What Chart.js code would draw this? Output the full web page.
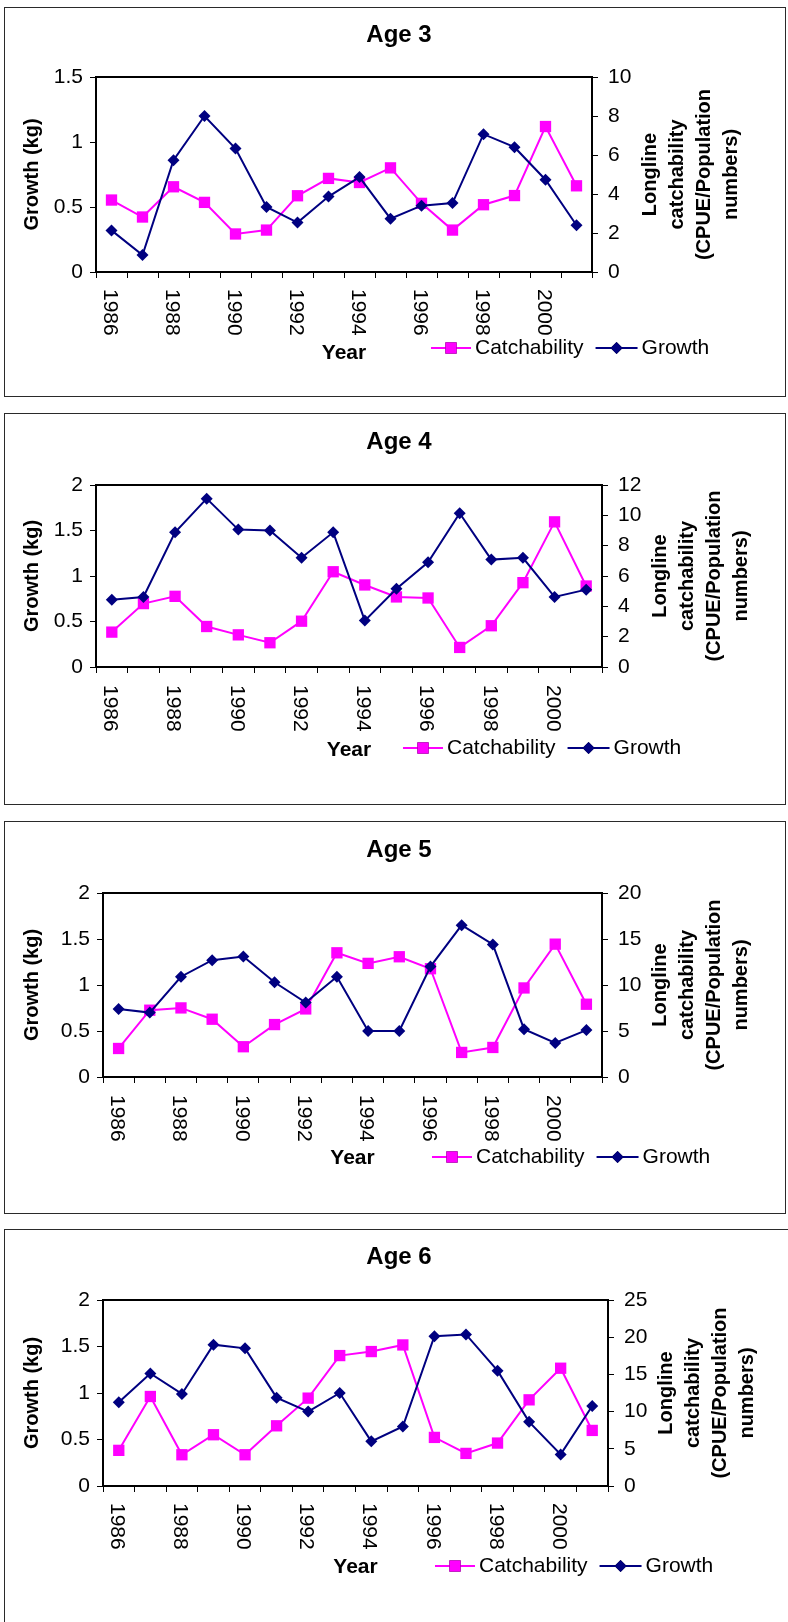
<!DOCTYPE html>
<html>
<head>
<meta charset="utf-8">
<script src="https://cdn.jsdelivr.net/npm/chart.js@4.4.1/dist/chart.umd.min.js"></script>
<style>
  html, body { margin: 0; padding: 0; background: #fff; }
  body { position: relative; width: 788px; height: 1622px; overflow: hidden; }
  .box { position: absolute; box-sizing: border-box; border: 1.5px solid #2a2a2a; }
  canvas { position: absolute; left: 0; }
</style>
</head>
<body>
<script>
// Years on the category axis (every second one is labelled)
const years = ['1986','1987','1988','1989','1990','1991','1992','1993',
               '1994','1995','1996','1997','1998','1999','2000','2001'];

// Growth (kg), left axis
const growthAge3 = [0.32,0.13,0.86,1.20,0.95,0.50,0.38,0.58,0.73,0.41,0.51,0.53,1.06,0.96,0.71,0.36];
const growthAge4 = [0.74,0.77,1.48,1.85,1.51,1.50,1.20,1.48,0.51,0.86,1.15,1.69,1.18,1.20,0.77,0.85];
const growthAge5 = [0.74,0.70,1.09,1.27,1.31,1.03,0.81,1.09,0.50,0.50,1.20,1.65,1.44,0.52,0.37,0.51];
const growthAge6 = [0.90,1.21,0.99,1.52,1.48,0.95,0.80,1.00,0.48,0.64,1.61,1.63,1.24,0.69,0.34,0.86];

// Longline catchability (CPUE / population numbers), right axis
const catchAge3 = [3.69,2.82,4.37,3.57,1.95,2.15,3.91,4.80,4.59,5.34,3.52,2.15,3.45,3.92,7.46,4.42];
const catchAge4 = [2.30,4.18,4.66,2.67,2.12,1.60,3.02,6.28,5.41,4.62,4.55,1.29,2.72,5.56,9.57,5.34];
const catchAge5 = [3.10,7.26,7.51,6.28,3.29,5.70,7.40,13.50,12.35,13.07,11.77,2.67,3.21,9.68,14.44,7.91];
const catchAge6 = [4.79,12.03,4.20,6.89,4.20,8.09,11.81,17.53,18.07,18.96,6.53,4.38,5.77,11.58,15.83,7.47];

const panelTitles = ['Age 3', 'Age 4', 'Age 5', 'Age 6'];
const growthSeries = [growthAge3, growthAge4, growthAge5, growthAge6];
const catchSeries  = [catchAge3, catchAge4, catchAge5, catchAge6];

// Axis ranges and tick steps
const growthMax  = [1.5, 2, 2, 2];
const growthStep = [0.5, 0.5, 0.5, 0.5];
const catchMax   = [10, 12, 20, 25];
const catchStep  = [2, 2, 5, 5];

const rightAxisTitle = ['Longline', 'catchability', '(CPUE/Population', 'numbers)'];

// Page layout of each framed panel (pixels)
const layoutBoxes = [
  { top: 7,    bottom: 397,  width: 782, plotL: 96,  plotR: 592, plotT: 77,   plotB: 272,  titleY: 35,   labelY: 289,  yearY: 353,  legendX: 431, legendY: 348 },
  { top: 413,  bottom: 805,  width: 782, plotL: 96,  plotR: 602, plotT: 485,  plotB: 667,  titleY: 442,  labelY: 685,  yearY: 750,  legendX: 403, legendY: 748 },
  { top: 821,  bottom: 1214, width: 782, plotL: 103, plotR: 602, plotT: 893,  plotB: 1077, titleY: 850,  labelY: 1095, yearY: 1158, legendX: 432, legendY: 1157 },
  { top: 1229, bottom: 1660, width: 800, plotL: 103, plotR: 608, plotT: 1300, plotB: 1486, titleY: 1257, labelY: 1503, yearY: 1567, legendX: 435, legendY: 1566 }
];

const FONT = "'Liberation Sans', Arial, Helvetica, sans-serif";
const PINK = '#FF00FF';
const NAVY = '#000080';
const PAGE_W = 788;
const PAGE_H = 1622;

Chart.defaults.font.family = FONT;
Chart.defaults.color = '#000';

// Plot-area frame
const framePlugin = {
  id: 'frame',
  beforeDatasetsDraw(chart) {
    const { ctx, chartArea: a } = chart;
    ctx.save();
    ctx.strokeStyle = '#000';
    ctx.lineWidth = 2;
    ctx.strokeRect(a.left, a.top, a.right - a.left, a.bottom - a.top);
    ctx.restore();
  }
};

// Rotated year labels, right-hand axis title and the line/marker legend
const decorPlugin = {
  id: 'decor',
  afterDraw(chart, args, opts) {
    const { ctx } = chart;
    const p = opts.box;
    const xs = chart.scales.x;
    ctx.save();
    ctx.fillStyle = '#000';

    // year labels, reading downwards
    ctx.font = `21px ${FONT}`;
    ctx.textAlign = 'left';
    ctx.textBaseline = 'middle';
    years.forEach((yr, i) => {
      if (i % 2 !== 0) return;
      const x = xs.getPixelForValue(i) - 2;
      ctx.save();
      ctx.translate(x, p.labelY - p.top);
      ctx.rotate(Math.PI / 2);
      ctx.fillText(yr, 0, 0);
      ctx.restore();
    });

    // right axis title, four lines reading upwards
    ctx.font = `bold 20px ${FONT}`;
    ctx.textAlign = 'center';
    ctx.textBaseline = 'middle';
    const cx = p.plotR + 99;
    const cy = (p.plotT + p.plotB) / 2 - p.top;
    ctx.save();
    ctx.translate(cx, cy);
    ctx.rotate(-Math.PI / 2);
    rightAxisTitle.forEach((line, j) => {
      ctx.fillText(line, 0, (j - (rightAxisTitle.length - 1) / 2) * 27.3);
    });
    ctx.restore();

    // legend
    const ly = p.legendY - p.top;
    let x = p.legendX;
    ctx.font = `21px ${FONT}`;
    ctx.textAlign = 'left';
    ctx.textBaseline = 'middle';
    const entries = [
      { ds: chart.data.datasets[0], w: 40 },
      { ds: chart.data.datasets[1], w: 42 }
    ];
    entries.forEach((e) => {
      const ds = e.ds;
      ctx.strokeStyle = ds.borderColor;
      ctx.lineWidth = 2;
      ctx.beginPath();
      ctx.moveTo(x, ly);
      ctx.lineTo(x + e.w, ly);
      ctx.stroke();
      Chart.helpers.drawPoint(ctx, {
        pointStyle: ds.pointStyle,
        radius: ds.pointRadius,
        borderWidth: 0,
        rotation: 0
      }, x + e.w / 2, ly);
      ctx.fillStyle = ds.backgroundColor;
      ctx.fill();
      ctx.fillStyle = '#000';
      x += e.w + 4;
      ctx.fillText(ds.label, x, ly);
      x += ctx.measureText(ds.label).width + 12;
    });
    ctx.restore();
  }
};

layoutBoxes.forEach((p, i) => {
  const box = document.createElement('div');
  box.className = 'box';
  box.style.left = '4px';
  box.style.top = p.top + 'px';
  box.style.width = p.width + 'px';
  box.style.height = (p.bottom - p.top) + 'px';
  document.body.appendChild(box);

  const H = Math.min(p.bottom, PAGE_H) - p.top;
  const canvas = document.createElement('canvas');
  canvas.width = PAGE_W;
  canvas.height = H;
  canvas.style.top = p.top + 'px';
  canvas.style.width = PAGE_W + 'px';
  canvas.style.height = H + 'px';
  document.body.appendChild(canvas);

  const titleRel = p.titleY - p.top;
  const plotTopRel = p.plotT - p.top;
  const titleLH = 24 * 1.2;
  const yearLH = 21 * 1.2;

  new Chart(canvas.getContext('2d'), {
    type: 'line',
    data: {
      labels: years,
      datasets: [
        {
          label: 'Catchability',
          data: catchSeries[i],
          yAxisID: 'y1',
          order: 1,
          borderColor: PINK,
          backgroundColor: PINK,
          borderWidth: 2,
          tension: 0,
          pointStyle: 'rect',
          pointRadius: 8,
          pointBorderWidth: 0,
          pointBackgroundColor: PINK
        },
        {
          label: 'Growth',
          data: growthSeries[i],
          yAxisID: 'y',
          order: 0,
          borderColor: NAVY,
          backgroundColor: NAVY,
          borderWidth: 2,
          tension: 0,
          pointStyle: 'rectRot',
          pointRadius: 6,
          pointBorderWidth: 0,
          pointBackgroundColor: NAVY
        }
      ]
    },
    options: {
      responsive: false,
      animation: false,
      devicePixelRatio: 1,
      layout: { padding: { left: 10, right: 0, top: 0, bottom: 0 } },
      plugins: {
        legend: { display: false },
        tooltip: { enabled: false },
        title: {
          display: true,
          text: panelTitles[i],
          color: '#000',
          font: { family: FONT, size: 24, weight: 'bold' },
          padding: { top: titleRel - titleLH / 2, bottom: plotTopRel - titleRel - titleLH / 2 }
        },
        decor: { box: p }
      },
      scales: {
        x: {
          type: 'category',
          offset: true,
          border: { display: false },
          grid: { offset: true, drawOnChartArea: false, drawTicks: true, tickLength: 6, color: '#000', lineWidth: 1 },
          ticks: { display: false },
          title: {
            display: true,
            text: 'Year',
            color: '#000',
            font: { family: FONT, size: 21, weight: 'bold' },
            padding: { top: 0, bottom: H - (p.yearY - p.top) - yearLH / 2 }
          },
          afterFit(s) { s.height = H - (p.plotB - p.top); }
        },
        y: {
          position: 'left',
          min: 0,
          max: growthMax[i],
          border: { display: false },
          grid: { drawOnChartArea: false, drawTicks: true, tickLength: 6, color: '#000', lineWidth: 1 },
          ticks: {
            stepSize: growthStep[i],
            padding: 7,
            color: '#000',
            font: { family: FONT, size: 21 },
            callback: v => String(v)
          },
          title: {
            display: true,
            text: 'Growth (kg)',
            color: '#000',
            font: { family: FONT, size: 20, weight: 'bold' },
            padding: { top: 10, bottom: 0 }
          },
          afterFit(s) { s.width = p.plotL - 10; }
        },
        y1: {
          position: 'right',
          min: 0,
          max: catchMax[i],
          border: { display: false },
          grid: { drawOnChartArea: false, drawTicks: true, tickLength: 6, color: '#000', lineWidth: 1 },
          ticks: {
            stepSize: catchStep[i],
            padding: 10,
            color: '#000',
            font: { family: FONT, size: 21 },
            callback: v => String(v)
          },
          afterFit(s) { s.width = PAGE_W - p.plotR; }
        }
      }
    },
    plugins: [framePlugin, decorPlugin]
  });
});
</script>
</body>
</html>
